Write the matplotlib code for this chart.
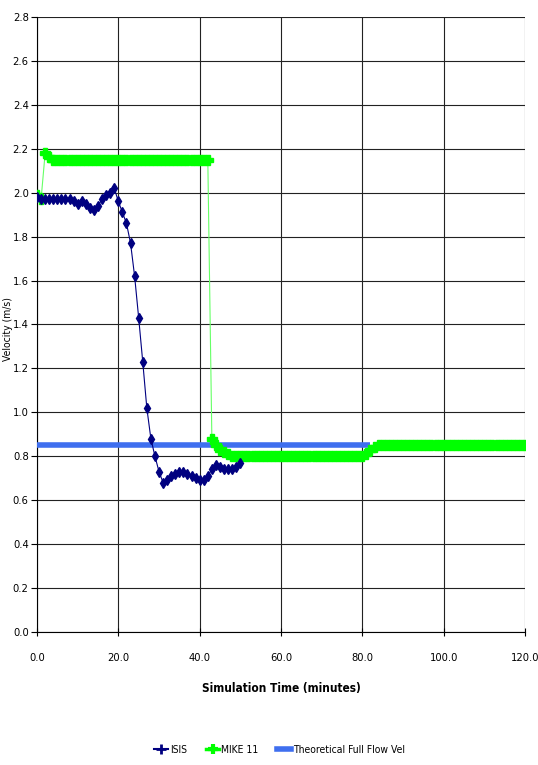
import matplotlib
matplotlib.use('Agg')
import matplotlib.pyplot as plt
from matplotlib.lines import Line2D

plt.rcParams['font.family'] = ['Liberation Sans Narrow', 'DejaVu Sans']
plt.rcParams['font.stretch'] = 'condensed'

# ISIS velocities, one value per minute from 0 to 50
isis_time = list(range(0, 51))
isis_vel = [1.98, 1.97, 1.97, 1.97, 1.97, 1.97, 1.97, 1.97, 1.97, 1.96,
            1.95, 1.96, 1.95, 1.93, 1.92, 1.94, 1.97, 1.99, 2.00, 2.02,
            1.96, 1.91, 1.86, 1.77, 1.62, 1.43, 1.23, 1.02, 0.88, 0.80,
            0.73, 0.68, 0.69, 0.71, 0.72, 0.73, 0.73, 0.72, 0.71, 0.70,
            0.69, 0.69, 0.71, 0.74, 0.76, 0.75, 0.74, 0.74, 0.74, 0.75,
            0.77]

# MIKE 11 velocities, one value per minute from 0 to 120
mike_time = list(range(0, 121))
mike_vel = [1.99, 1.97, 2.18, 2.16, 2.15, 2.15, 2.15, 2.15, 2.15, 2.15,
            2.15, 2.15, 2.15, 2.15, 2.15, 2.15, 2.15, 2.15, 2.15, 2.15,
            2.15, 2.15, 2.15, 2.15, 2.15, 2.15, 2.15, 2.15, 2.15, 2.15,
            2.15, 2.15, 2.15, 2.15, 2.15, 2.15, 2.15, 2.15, 2.15, 2.15,
            2.15, 2.15, 2.15, 0.88, 0.85, 0.83, 0.82, 0.81, 0.80, 0.80,
            0.80, 0.80, 0.80, 0.80, 0.80, 0.80, 0.80, 0.80, 0.80, 0.80,
            0.80, 0.80, 0.80, 0.80, 0.80, 0.80, 0.80, 0.80, 0.80, 0.80,
            0.80, 0.80, 0.80, 0.80, 0.80, 0.80, 0.80, 0.80, 0.80, 0.80,
            0.80, 0.81, 0.83, 0.84, 0.85, 0.85, 0.85, 0.85, 0.85, 0.85,
            0.85, 0.85, 0.85, 0.85, 0.85, 0.85, 0.85, 0.85, 0.85, 0.85,
            0.85, 0.85, 0.85, 0.85, 0.85, 0.85, 0.85, 0.85, 0.85, 0.85,
            0.85, 0.85, 0.85, 0.85, 0.85, 0.85, 0.85, 0.85, 0.85, 0.85,
            0.85]

# theoretical full flow velocity
theo_time = [0, 82]
theo_vel = [0.85, 0.85]

x_ticks = [0, 20, 40, 60, 80, 100, 120]
y_ticks = [0.0, 0.2, 0.4, 0.6, 0.8, 1.0, 1.2, 1.4, 1.6, 1.8, 2.0, 2.2, 2.4, 2.6, 2.8]

fig = plt.figure(figsize=(5.38, 7.65), dpi=100)
ax = fig.add_axes([0.0688, 0.1739, 0.907, 0.804])

ax.plot(theo_time, theo_vel, color='#3F6FEF', lw=4.0, solid_capstyle='butt',
        label='Theoretical Full Flow Vel', zorder=3)
ax.plot(mike_time, mike_vel, color='#66FF66', lw=0.8, zorder=4)
ax.plot(mike_time, mike_vel, ls='none', marker='P', ms=7.5, color='#00FF00',
        mec='#00FF00', zorder=4)
ax.plot(isis_time, isis_vel, color='#000080', lw=0.8, marker='d', ms=5,
        mec='#000080', mfc='#000080', zorder=5)

ax.set_xlim(0, 120)
ax.set_ylim(0, 2.8)
ax.set_xticks(x_ticks)
ax.set_yticks(y_ticks)
ax.set_xticklabels(['%.1f' % v for v in x_ticks], fontsize=8)
ax.set_yticklabels(['%.1f' % v for v in y_ticks], fontsize=8)
ax.tick_params(axis='x', direction='inout', length=6, pad=12)
ax.tick_params(axis='y', direction='out', length=4, pad=2)
ax.grid(True, color='#222222', lw=0.8)
ax.set_axisbelow(True)
for s in ['top', 'right']:
    ax.spines[s].set_visible(False)

ax.set_xlabel('Simulation Time (minutes)', fontsize=8.5, fontweight='bold', labelpad=14)
fig.text(0.014, 0.57, 'Velocity (m/s)', rotation=90, fontsize=7.5,
         ha='center', va='center')

handles = [
    Line2D([], [], color='#000080', marker='+', ms=7, mew=2, lw=1.5),
    Line2D([], [], color='#00FF00', marker='+', ms=7, mew=3, lw=2.5),
    Line2D([], [], color='#3F6FEF', lw=4),
]
fig.legend(handles, ['ISIS', 'MIKE 11', 'Theoretical Full Flow Vel'],
           loc='center', bbox_to_anchor=(0.52, 0.02), ncol=3, frameon=False,
           fontsize=7.5, handlelength=1.3, columnspacing=1.8, handletextpad=0.2)

fig.savefig('out.png', dpi=100)
